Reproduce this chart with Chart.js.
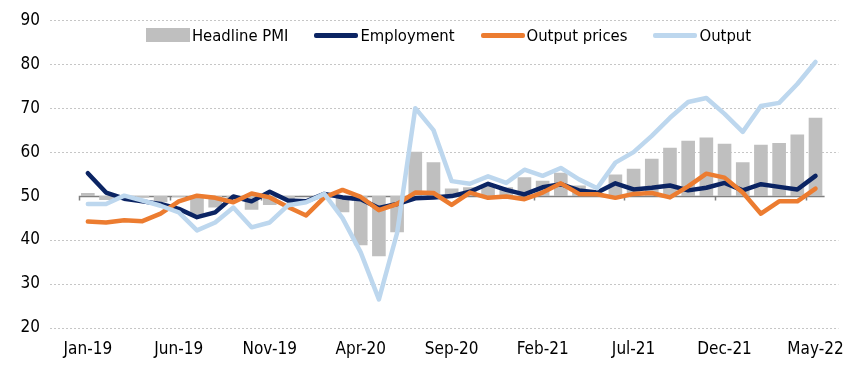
<!DOCTYPE html>
<html>
<head>
<meta charset="utf-8">
<script src="https://cdn.jsdelivr.net/npm/chart.js@4.4.1/dist/chart.umd.min.js"></script>
<style>
    html, body { margin: 0; padding: 0; background: #fff; }
    #wrap { position: relative; width: 855px; height: 375px; }
    #legend {
        position: absolute; top: 24px; left: 52px; width: 793px; height: 22px;
        display: flex; justify-content: center; align-items: center;
        font-family: 'Liberation Sans Narrow', 'Arial Narrow', 'DejaVu Sans Condensed', sans-serif;
        font-size: 16.5px; color: #000; white-space: nowrap;
    }
    #legend .item { display: flex; align-items: center; margin-right: 26px; }
    #legend .item:last-child { margin-right: 0; }
    #legend .mark { width: 44px; margin-right: 2px; }
    #legend .box { height: 14px; }
    #legend .line { height: 5px; border-radius: 2px; }
</style>
</head>
<body>
<div id="wrap">
    <canvas id="chart" width="855" height="375"></canvas>
    <div id="legend"></div>
</div>
<script>
// 月份（Jan-19 ~ May-22）
const months = [
    'Jan-19', 'Feb-19', 'Mar-19', 'Apr-19', 'May-19', 'Jun-19', 'Jul-19', 'Aug-19', 'Sep-19', 'Oct-19', 'Nov-19', 'Dec-19',
    'Jan-20', 'Feb-20', 'Mar-20', 'Apr-20', 'May-20', 'Jun-20', 'Jul-20', 'Aug-20', 'Sep-20', 'Oct-20', 'Nov-20', 'Dec-20',
    'Jan-21', 'Feb-21', 'Mar-21', 'Apr-21', 'May-21', 'Jun-21', 'Jul-21', 'Aug-21', 'Sep-21', 'Oct-21', 'Nov-21', 'Dec-21',
    'Jan-22', 'Feb-22', 'Mar-22', 'Apr-22', 'May-22'
];

// 综合PMI（柱，以50为基准）
const headlinePmi = [
    50.7, 49.1, 49.8, 49.6, 48.6, 49.8, 45.8, 47.4, 49.3, 46.9, 48.0, 49.3,
    50.1, 50.2, 46.3, 38.8, 36.3, 41.8, 60.1, 57.7, 51.7, 52.0, 52.4, 52.0,
    54.3, 53.5, 55.3, 52.4, 50.6, 54.9, 56.2, 58.5, 61.0, 62.6, 63.3, 61.9,
    57.7, 61.7, 62.1, 64.0, 67.8
];

// 就业
const employment = [
    55.2, 50.8, 49.4, 48.8, 48.2, 47.1, 45.2, 46.3, 49.9, 48.8, 51.0, 49.0,
    48.8, 50.5, 49.7, 49.3, 47.3, 48.2, 49.5, 49.7, 50.0, 51.0, 52.8, 51.4,
    50.4, 52.0, 52.7, 51.3, 50.8, 52.9, 51.5, 51.9, 52.4, 51.3, 51.9, 53.0,
    51.3, 52.7, 52.1, 51.5, 54.6
];

// 产出价格
const outputPrices = [
    44.2, 44.0, 44.5, 44.3, 46.0, 48.8, 50.1, 49.6, 48.6, 50.6, 49.7, 47.5,
    45.6, 49.7, 51.4, 49.8, 46.8, 48.2, 50.8, 50.7, 48.0, 50.8, 49.6, 49.9,
    49.3, 50.8, 52.9, 50.5, 50.4, 49.6, 50.5, 50.7, 49.7, 52.2, 55.1, 54.2,
    50.8, 46.0, 48.8, 48.8, 51.7
];

// 产出
const output = [
    48.2, 48.2, 50.1, 49.0, 47.8, 46.3, 42.2, 44.0, 47.4, 42.9, 44.0, 47.9,
    48.6, 50.5, 45.0, 37.2, 26.5, 41.6, 70.0, 65.0, 53.4, 52.8, 54.5, 53.0,
    56.0, 54.6, 56.4, 53.8, 51.8, 57.6, 60.0, 63.7, 67.8, 71.4, 72.3, 68.7,
    64.6, 70.5, 71.2, 75.5, 80.5
];

// 纵轴刻度
const yTicks = [20, 30, 40, 50, 60, 70, 80, 90];
const baseLine = 50;

const FONT = "'Liberation Sans Narrow', 'Arial Narrow', 'DejaVu Sans Condensed', sans-serif";

const series = [
    { label: 'Headline PMI', kind: 'box', color: '#BFBFBF' },
    { label: 'Employment', kind: 'line', color: '#0B2463' },
    { label: 'Output prices', kind: 'line', color: '#EC7C30' },
    { label: 'Output', kind: 'line', color: '#BDD7EE' }
];

function toPoints(values) {
    return values.map((v, i) => ({ x: i, y: v }));
}

// 50基准线及刻度
const axisAt50 = {
    id: 'axisAt50',
    beforeDatasetsDraw(chart) {
        const x = chart.scales.x, y = chart.scales.y;
        const ctx = chart.ctx;
        const yy = Math.round(y.getPixelForValue(baseLine)) + 0.5;
        ctx.save();
        ctx.strokeStyle = '#808080';
        ctx.lineWidth = 1.5;
        ctx.beginPath();
        ctx.moveTo(x.getPixelForValue(-0.5), yy);
        ctx.lineTo(x.getPixelForValue(months.length - 0.5), yy);
        for (let i = -1; i < months.length; i += 5) {
            const xx = Math.round(x.getPixelForValue(i + 0.5)) + 0.5;
            ctx.moveTo(xx, yy);
            ctx.lineTo(xx, yy + 4);
        }
        ctx.stroke();
        ctx.restore();
    }
};

function lineSet(label, values, color, order) {
    return {
        type: 'line',
        label: label,
        data: toPoints(values),
        borderColor: color,
        backgroundColor: color,
        borderWidth: 4.5,
        pointRadius: 0,
        tension: 0,
        borderJoinStyle: 'round',
        borderCapStyle: 'round',
        order: order
    };
}

function createChart() {
    const canvas = document.getElementById('chart');

    new Chart(canvas, {
        type: 'bar',
        data: {
            datasets: [
                {
                    label: 'Headline PMI',
                    data: headlinePmi.map((v, i) => ({ x: i, y: [baseLine, v] })),
                    backgroundColor: '#BFBFBF',
                    barPercentage: 0.75,
                    categoryPercentage: 1,
                    order: 4
                },
                lineSet('Employment', employment, '#0B2463', 3),
                lineSet('Output prices', outputPrices, '#EC7C30', 2),
                lineSet('Output', output, '#BDD7EE', 1)
            ]
        },
        options: {
            responsive: false,
            animation: false,
            events: [],
            layout: { padding: { top: 19, right: 12, left: 0, bottom: 0 } },
            plugins: {
                legend: { display: false },
                tooltip: { enabled: false }
            },
            scales: {
                x: {
                    type: 'linear',
                    offset: false,
                    min: -2.08,
                    max: 41.26,
                    grid: { display: false, drawTicks: false, offset: false },
                    border: { display: false },
                    afterFit: function(scale) { scale.height = 47; },
                    afterBuildTicks: function(scale) {
                        scale.ticks = months.map((m, i) => ({ value: i })).filter(t => t.value % 5 === 0);
                    },
                    ticks: {
                        padding: 11,
                        autoSkip: false,
                        maxRotation: 0,
                        color: '#000',
                        font: { family: FONT, size: 17 },
                        callback: function(value) { return months[value]; }
                    }
                },
                y: {
                    min: yTicks[0],
                    max: yTicks[yTicks.length - 1],
                    afterFit: function(scale) { scale.width = 50; },
                    afterBuildTicks: function(scale) {
                        scale.ticks = yTicks.map(v => ({ value: v }));
                    },
                    grid: {
                        drawTicks: false,
                        lineWidth: 1,
                        color: function(ctx) {
                            return ctx.tick && ctx.tick.value === baseLine ? 'rgba(0,0,0,0)' : '#C6C6C6';
                        }
                    },
                    border: { display: false, dash: [2, 2] },
                    ticks: {
                        padding: 10,
                        color: '#000',
                        font: { family: FONT, size: 17 }
                    }
                }
            }
        },
        plugins: [axisAt50]
    });
}

function createLegend() {
    const legend = document.getElementById('legend');
    series.forEach(s => {
        const item = document.createElement('div');
        item.className = 'item';
        const mark = document.createElement('span');
        mark.className = 'mark ' + s.kind;
        mark.style.background = s.color;
        const text = document.createElement('span');
        text.textContent = s.label;
        item.appendChild(mark);
        item.appendChild(text);
        legend.appendChild(item);
    });
}

createLegend();
createChart();
</script>
</body>
</html>
